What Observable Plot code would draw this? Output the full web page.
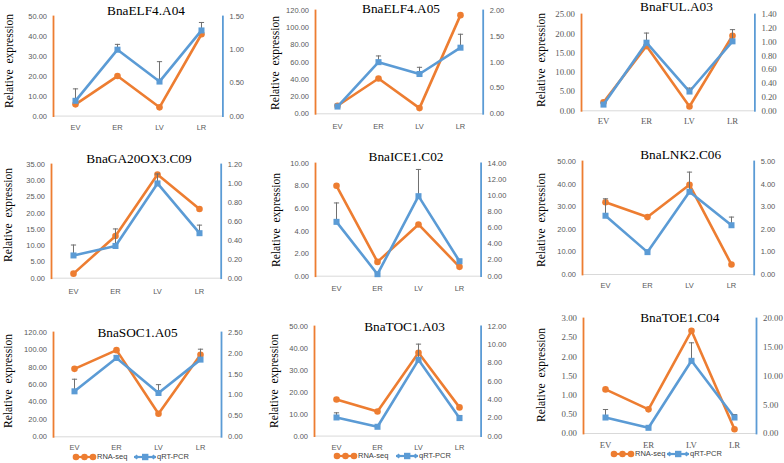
<!DOCTYPE html>
<html><head><meta charset="utf-8">
<script src="https://cdn.jsdelivr.net/npm/d3@7"></script>
<script src="https://cdn.jsdelivr.net/npm/@observablehq/plot@0.6"></script>
<style>
html,body{margin:0;padding:0;background:#fff;}
#root{position:relative;width:784px;height:463px;overflow:hidden;background:#fff;}
.t{position:absolute;white-space:pre;transform:translate(-50%,-50%);font-family:"Liberation Serif","Times New Roman",serif;color:#000;line-height:1;}
.yl{position:absolute;white-space:pre;transform:translate(-50%,-50%) rotate(-90deg);font-family:"Liberation Serif","Times New Roman",serif;color:#000;font-size:11.6px;line-height:1;}
.leg{position:absolute;font-family:"Liberation Sans",Arial,sans-serif;font-size:7.5px;color:#404040;line-height:1;transform:translateY(-50%);white-space:nowrap;}
</style>
</head><body><div id="root"></div>
<script>
const categories = ["EV", "ER", "LV", "LR"];
const genes = ["BnaELF4.A04", "BnaELF4.A05", "BnaFUL.A03", "BnaGA20OX3.C09", "BnaICE1.C02", "BnaLNK2.C06", "BnaSOC1.A05", "BnaTOC1.A03", "BnaTOE1.C04"];
const rnaSeq = [
  [5.9, 20.1, 4.4, 41.1],
  [9.3, 41.0, 6.6, 114.6],
  [2.2, 16.8, 1.1, 19.5],
  [1.4, 13.0, 31.9, 21.3],
  [8.02, 1.27, 4.59, 0.83],
  [32.0, 25.4, 39.7, 4.4],
  [78.2, 99.7, 26.5, 94.3],
  [16.7, 11.2, 38.0, 13.1],
  [1.15, 0.63, 2.68, 0.11]
];
const qrtPcr = [
  [0.23, 1.00, 0.52, 1.29],
  [0.14, 1.00, 0.77, 1.28],
  [0.09, 0.99, 0.28, 1.01],
  [0.24, 0.34, 1.00, 0.475],
  [6.75, 0.25, 9.94, 1.86],
  [2.60, 0.99, 3.66, 2.18],
  [1.09, 1.89, 1.05, 1.85],
  [2.04, 1.02, 8.35, 1.97],
  [2.78, 0.99, 12.64, 2.78]
];
const qrtError = [
  [0.18, 0.08, 0.30, 0.12],
  [0.02, 0.12, 0.13, 0.26],
  [0.02, 0.14, 0.05, 0.17],
  [0.11, 0.18, 0.10, 0.085],
  [2.35, 0.10, 3.32, 0.20],
  [0.75, 0.05, 0.87, 0.36],
  [0.29, 0.06, 0.20, 0.25],
  [0.51, 0.10, 1.72, 0.29],
  [1.39, 0.20, 3.13, 0.52]
];
const leftTicks = [
  [0, 10, 20, 30, 40, 50],
  [0, 20, 40, 60, 80, 100, 120],
  [0, 5, 10, 15, 20, 25],
  [0, 5, 10, 15, 20, 25, 30, 35],
  [0, 2, 4, 6, 8, 10],
  [0, 10, 20, 30, 40, 50],
  [0, 20, 40, 60, 80, 100, 120],
  [0, 10, 20, 30, 40, 50],
  [0, 0.5, 1, 1.5, 2, 2.5, 3]
];
const rightTicks = [
  [0, 0.5, 1, 1.5],
  [0, 0.5, 1, 1.5, 2],
  [0, 0.2, 0.4, 0.6, 0.8, 1, 1.2, 1.4],
  [0, 0.2, 0.4, 0.6, 0.8, 1, 1.2],
  [0, 2, 4, 6, 8, 10, 12, 14],
  [0, 1, 2, 3, 4, 5],
  [0, 0.5, 1, 1.5, 2, 2.5],
  [0, 2, 4, 6, 8, 10, 12],
  [0, 5, 10, 15, 20]
];
const yLabel = "Relative  expression";
const seriesNames = ["RNA-seq", "qRT-PCR"];

// layout (pixels) — not data
const layout = [
  {l:53.3, r:222.7, t:15.7, b:115.3, tx:146, ty:10.7, yx:10, yy:61, xo:11.4, serif:false},
  {l:315.3, r:483, t:10, b:113.3, tx:401, ty:9.3, yx:276, yy:62.5, xo:12.5, serif:false},
  {l:581.3, r:754.7, t:14, b:110.3, tx:676.5, ty:7.3, yx:542.3, yy:60, xo:10.4, serif:true},
  {l:51, r:220.7, t:164, b:277.7, tx:139, ty:158.5, yx:9.3, yy:214.7, xo:13.5, serif:false},
  {l:314.7, r:480.3, t:163.3, b:276, tx:406, ty:157, yx:277, yy:220, xo:12.3, serif:false},
  {l:582.3, r:754, t:161, b:274, tx:680.7, ty:155, yx:542.3, yy:220, xo:11, serif:false},
  {l:52.7, r:220.7, t:331.7, b:436, tx:137.5, ty:332.7, yx:9.3, yy:380.8, xo:10.7, serif:false, leg:{x1:72, x2:133, y:456.7}},
  {l:313.7, r:480.3, t:325.7, b:435.3, tx:404.5, ty:326.7, yx:275.3, yy:380.8, xo:11.4, serif:false, leg:{x1:333, x2:395, y:456}},
  {l:583.3, r:756.3, t:318.3, b:433.3, tx:679.8, ty:318.3, yx:542.3, yy:375, xo:11.7, serif:true, leg:{x1:610, x2:666, y:454}}
];

const ORANGE = "#ED7D31", BLUE = "#5B9BD5", ERR = "#6f6f6f";
const capSymbol = {draw(ctx, size) { const w = Math.sqrt(size / Math.PI); ctx.moveTo(-w, 0); ctx.lineTo(w, 0); }};
const root = document.getElementById("root");

genes.forEach((gene, i) => {
  const L = layout[i];
  const ml = 40, mr = 40, mt = 4, mb = 24;
  const W = (L.r - L.l) + ml + mr, H = (L.b - L.t) + mt + mb;
  const font = L.serif ? "'Liberation Serif','Times New Roman',serif" : "'Liberation Sans',Arial,sans-serif";
  const fs = L.serif ? 8.8 : 7.5;
  const data = categories.map((c, j) => ({cat: c, rna: rnaSeq[i][j], q: qrtPcr[i][j], top: qrtPcr[i][j] + qrtError[i][j]}));
  const style = {fontFamily: font, fontSize: fs + "px", color: "#595959", background: "transparent", overflow: "visible",
    position: "absolute", left: (L.l - ml) + "px", top: (L.t - mt) + "px", maxWidth: "none"};
  const common = {width: W, height: H, marginLeft: ml, marginRight: mr, marginTop: mt, marginBottom: mb, style};
  const xPad = L.xo - fs * 0.36;
  const fmt = d => d.toFixed(2);

  const p1 = Plot.plot({
    ...common,
    x: {type: "point", domain: categories, padding: 0.5},
    y: {domain: [0, leftTicks[i][leftTicks[i].length - 1]]},
    marks: [
      Plot.ruleY([0], {stroke: "#d9d9d9", strokeWidth: 1}),
      Plot.frame({anchor: "left", stroke: ORANGE, strokeWidth: 1.8}),
      Plot.axisY({ticks: leftTicks[i], tickSize: 0, tickPadding: 6.5, tickFormat: fmt, label: null}),
      Plot.axisX({tickSize: 0, tickPadding: xPad, label: null}),
      Plot.line(data, {x: "cat", y: "rna", stroke: ORANGE, strokeWidth: 2.6}),
      Plot.dot(data, {x: "cat", y: "rna", r: 3.3, fill: ORANGE})
    ]
  });
  const p2 = Plot.plot({
    ...common,
    x: {type: "point", domain: categories, padding: 0.5, axis: null},
    y: {domain: [0, rightTicks[i][rightTicks[i].length - 1]]},
    marks: [
      Plot.frame({anchor: "right", stroke: BLUE, strokeWidth: 1.8}),
      Plot.axisY({anchor: "right", ticks: rightTicks[i], tickSize: 0, tickPadding: 6.5, tickFormat: fmt, label: null}),
      Plot.line(data, {x: "cat", y: "q", stroke: BLUE, strokeWidth: 2.6}),
      Plot.ruleX(data, {x: "cat", y1: "q", y2: "top", stroke: ERR, strokeWidth: 1}),
      Plot.dot(data, {x: "cat", y: "top", symbol: capSymbol, r: 2.6, stroke: ERR, strokeWidth: 1, fill: "none"}),
      Plot.dot(data, {x: "cat", y: "q", symbol: "square", r: 3.4, fill: BLUE})
    ]
  });
  for (const p of [p1, p2]) {
    p.style.position = "absolute";
    p.style.left = (L.l - ml) + "px";
    p.style.top = (L.t - mt) + "px";
    root.appendChild(p);
  }
  const t = document.createElement("div");
  t.className = "t"; t.textContent = gene;
  t.style.left = L.tx + "px"; t.style.top = L.ty + "px"; t.style.fontSize = "13.3px";
  root.appendChild(t);
  const yl = document.createElement("div");
  yl.className = "yl"; yl.textContent = yLabel;
  yl.style.left = L.yx + "px"; yl.style.top = L.yy + "px";
  root.appendChild(yl);

  if (L.leg) {
    const mk = (x, color, isSq) => {
      const d = document.createElement("div");
      d.className = "leg";
      d.style.left = x + "px"; d.style.top = L.leg.y + "px";
      d.style.display = "flex"; d.style.alignItems = "center";
      const sym = isSq
        ? `<svg width="24" height="8" style="display:block"><line x1="1" y1="4" x2="23" y2="4" stroke="${color}" stroke-width="2.2"/><path d="M1,4 L3.5,1.5 L6,4 L3.5,6.5Z" fill="${color}"/><path d="M18,4 L20.5,1.5 L23,4 L20.5,6.5Z" fill="${color}"/><rect x="9" y="0.8" width="6.4" height="6.4" fill="${color}"/></svg>`
        : `<svg width="25" height="8" style="display:block"><line x1="1" y1="4" x2="24" y2="4" stroke="${color}" stroke-width="2.2"/><circle cx="4" cy="4" r="3.3" fill="${color}"/><circle cx="12.5" cy="4" r="3.3" fill="${color}"/><circle cx="21" cy="4" r="3.3" fill="${color}"/></svg>`;
      d.innerHTML = sym + `<span>${isSq ? seriesNames[1] : seriesNames[0]}</span>`;
      root.appendChild(d);
    };
    mk(L.leg.x1, ORANGE, false);
    mk(L.leg.x2, BLUE, true);
  }
});
</script>
</body></html>
